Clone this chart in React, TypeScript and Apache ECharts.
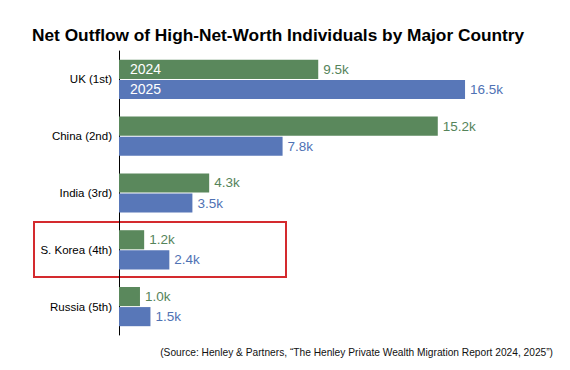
import React, { useEffect, useRef } from "react";
import * as echarts from "echarts";

const categories = ["UK (1st)", "China (2nd)", "India (3rd)", "S. Korea (4th)", "Russia (5th)"];
const seriesNames = ["2024", "2025"];
const values2024 = [9.5, 15.2, 4.3, 1.2, 1.0];
const values2025 = [16.5, 7.8, 3.5, 2.4, 1.5];
const titleText = "Net Outflow of High-Net-Worth Individuals by Major Country";
const sourceText = "(Source: Henley & Partners, \u201cThe Henley Private Wealth Migration Report 2024, 2025\u201d)";

const GREEN = "#5a885c";
const BLUE = "#5877b8";
const GREEN_TXT = "#55845a";
const BLUE_TXT = "#4f72b4";
const FONT = "Liberation Sans, Arial, sans-serif";

export default function App() {
  const ref = useRef<HTMLDivElement>(null);
  useEffect(() => {
    if (!ref.current) return;
    const chart = echarts.init(ref.current, null, { renderer: "svg" });
    const barCommon = {
      type: "bar",
      barCategoryGap: "31%",
      barGap: "5%",
    };
    const valueSeries = (name: string, data: number[], color: string, txt: string) => ({
      ...barCommon,
      name,
      data,
      yAxisIndex: 0,
      itemStyle: { color },
      label: {
        show: true,
        position: "right",
        distance: 5,
        color: txt,
        fontFamily: FONT,
        fontSize: 13.5,
        formatter: (p: any) => `${Number(p.value).toFixed(1)}k`,
      },
    });
    const overlaySeries = (name: string, data: number[]) => ({
      ...barCommon,
      name,
      yAxisIndex: 1,
      silent: true,
      itemStyle: { color: "rgba(0,0,0,0)" },
      data: data.map((v, i) => (i === 0 ? { value: v, label: { show: true } } : v)),
      label: {
        show: false,
        position: "insideLeft",
        distance: 11,
        color: "#ffffff",
        fontFamily: FONT,
        fontSize: 14,
        formatter: (p: any) => p.seriesName,
      },
    });
    chart.setOption({
      animation: false,
      backgroundColor: "#ffffff",
      title: {
        text: titleText,
        left: 32,
        top: 26,
        padding: 0,
        textStyle: { fontFamily: FONT, fontSize: 17.3, fontWeight: "bold", color: "#000000" },
      },
      grid: { left: 119, right: 73.5, top: 51, bottom: 35, containLabel: false },
      xAxis: { type: "value", min: 0, max: 18, show: false, splitLine: { show: false } },
      yAxis: [
        {
          type: "category",
          data: categories,
          inverse: true,
          axisLine: { show: true, lineStyle: { color: "#000000", width: 1 } },
          axisTick: { show: false },
          axisLabel: { margin: 7, color: "#000000", fontFamily: FONT, fontSize: 11.5 },
        },
        { type: "category", data: categories, inverse: true, show: false },
      ],
      series: [
        valueSeries(seriesNames[0], values2024, GREEN, GREEN_TXT),
        valueSeries(seriesNames[1], values2025, BLUE, BLUE_TXT),
        overlaySeries(seriesNames[0], values2024),
        overlaySeries(seriesNames[1], values2025),
      ],
      graphic: [
        {
          type: "rect",
          shape: { x: 34, y: 222, width: 252, height: 55 },
          style: { fill: "none", stroke: "#d42a2e", lineWidth: 2 },
          silent: true,
        },
        {
          type: "text",
          x: 553,
          y: 352,
          style: {
            text: sourceText,
            fontFamily: FONT,
            fontSize: 10.2,
            fill: "#111111",
            textAlign: "right",
            textVerticalAlign: "middle",
          },
        },
      ],
    });
    return () => chart.dispose();
  }, []);
  return <div ref={ref} style={{ width: 570, height: 370, position: "absolute", left: 0, top: 0 }} />;
}
